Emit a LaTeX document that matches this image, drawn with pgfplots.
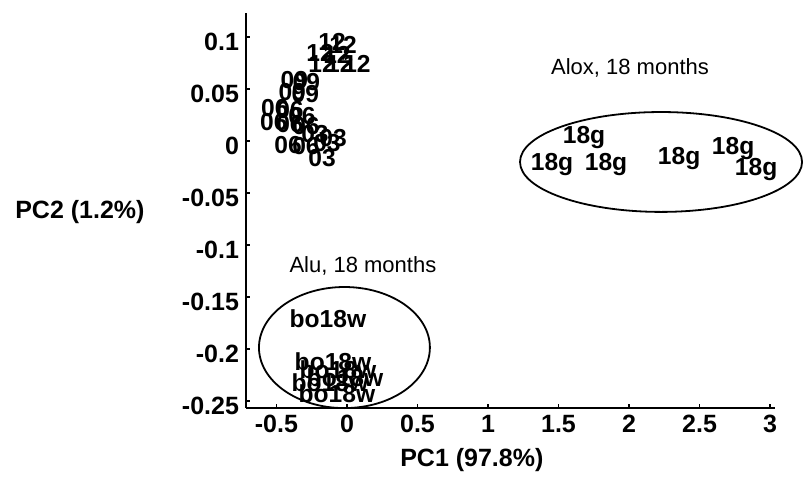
\documentclass[border=0pt]{standalone}
\usepackage{fontspec}
\setmainfont{Liberation Sans}
\usepackage{pgfplots}
\usepackage{pgfplotstable}
\pgfplotsset{compat=1.18}
\pgfplotstableread{
x y label
-0.106 0.0952 12
-0.028 0.0923 12
-0.191 0.0846 12
-0.071 0.0827 12
-0.177 0.0740 12
-0.050 0.0740 12
0.071 0.0740 12
-0.373 0.0585 09
-0.288 0.0566 09
-0.388 0.0470 09
-0.295 0.0450 09
-0.511 0.0317 06
-0.404 0.0298 06
-0.319 0.0240 06
-0.518 0.0183 06
-0.404 0.0163 06
-0.291 0.0144 06
-0.418 -0.0038 06
-0.291 -0.0048 06
-0.142 -0.0019 03
-0.227 0.0067 03
-0.099 0.0029 03
-0.177 -0.0163 03
}\monthdata
\pgfplotstableread{
x y label
1.681 0.0030 18g
1.454 -0.0230 18g
1.837 -0.0230 18g
2.355 -0.0170 18g
2.738 -0.0070 18g
2.901 -0.0270 18g
}\aloxdata
\pgfplotstableread{
x y label
-0.135 -0.1710 bo18w
-0.099 -0.2125 bo18w
-0.064 -0.2200 bo18w
-0.014 -0.2280 bo18w
-0.121 -0.2320 bo18w
-0.071 -0.2430 bo18w
}\aludata
\begin{document}
\begin{tikzpicture}
\begin{axis}[
  scale only axis, width=264.5pt, height=197.5pt,
  xmin=-0.716, xmax=3.035, ymin=-0.2567, ymax=0.123,
  axis x line*=bottom, axis y line*=left,
  axis line style={line width=0.9pt},
  tick align=inside, major tick length=2pt,
  tick style={line width=0.7pt, black},
  xtick={-0.5,0,0.5,1,1.5,2,2.5,3},
  xticklabels={-0.5,0,0.5,1,1.5,2,2.5,3},
  ytick={-0.25,-0.2,-0.15,-0.1,-0.05,0,0.05,0.1},
  yticklabels={-0.25,-0.2,-0.15,-0.1,-0.05,0,0.05,0.1},
  ticklabel style={font=\fontsize{12.5}{14}\selectfont\bfseries},
  yticklabel style={yshift=-2.5pt},
  xlabel={PC1 (97.8\%)}, ylabel={PC2 (1.2\%)},
  label style={font=\fontsize{12.5}{14}\selectfont\bfseries},
  xlabel style={at={(axis description cs:0.427,-0.132)},anchor=center},
  ylabel style={at={(axis description cs:-0.314,0.496)},anchor=center,rotate=-90},
  clip=false,
]
\addplot[only marks, mark=none, nodes near coords, point meta=explicit symbolic,
  every node near coord/.append style={anchor=center, inner sep=0pt, font=\fontsize{12.3}{14}\selectfont\bfseries}]
  table[x=x, y=y, meta=label] {\monthdata};
\addplot[only marks, mark=none, nodes near coords, point meta=explicit symbolic,
  every node near coord/.append style={anchor=center, inner sep=0pt, font=\fontsize{12.3}{14}\selectfont\bfseries}]
  table[x=x, y=y, meta=label] {\aloxdata};
\addplot[only marks, mark=none, nodes near coords, point meta=explicit symbolic,
  every node near coord/.append style={anchor=center, inner sep=0pt, font=\fontsize{12.3}{14}\selectfont\bfseries}]
  table[x=x, y=y, meta=label] {\aludata};
\draw[line width=0.9pt] (axis cs:2.227,-0.0202) ellipse [x radius=1.0, y radius=0.048];
\draw[line width=0.9pt] (axis cs:-0.018,-0.1986) ellipse [x radius=0.606, y radius=0.0582];
\node[font=\fontsize{11}{13}\selectfont] at (axis cs:2.007,0.070) {Alox, 18 months};
\node[font=\fontsize{11}{13}\selectfont] at (axis cs:0.113,-0.120) {Alu, 18 months};
\end{axis}
\path (current axis.south west) ++(-123pt,-45pt) rectangle ++(402pt,249pt);
\end{tikzpicture}
\end{document}
